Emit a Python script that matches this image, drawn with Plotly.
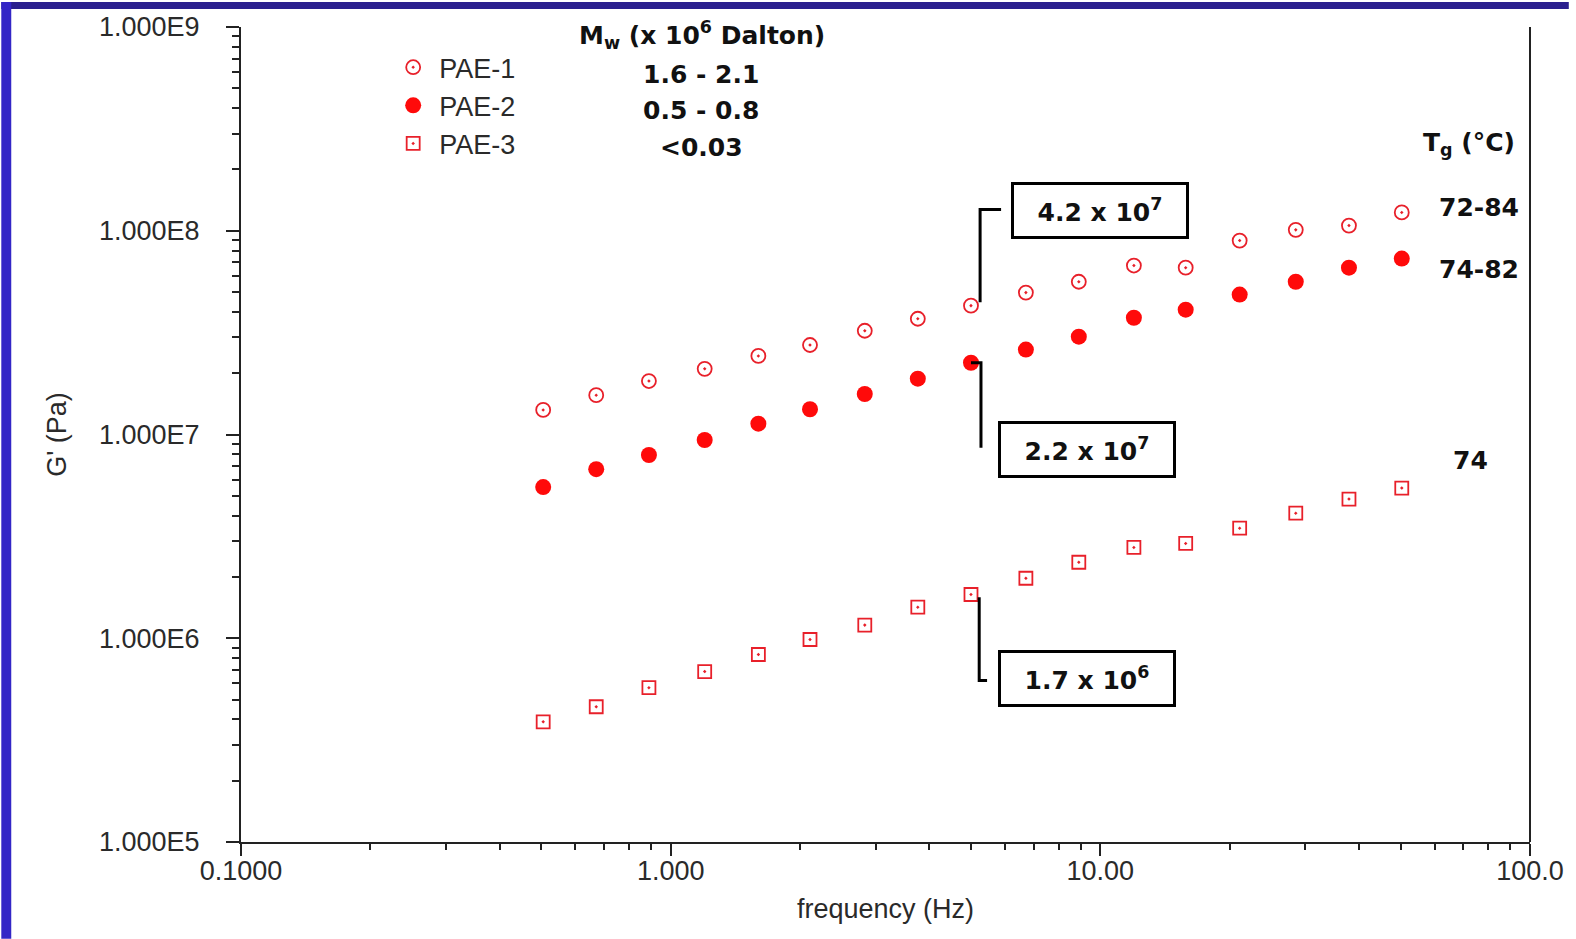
import numpy as np
import plotly.graph_objects as go

# ---------------- data ----------------
freq = [0.505, 0.671, 0.89, 1.2, 1.6, 2.11, 2.83, 3.76, 5.0, 6.71, 8.91,
        11.97, 15.8, 21.1, 28.5, 37.9, 50.3]
pae1 = [1.32e7, 1.56e7, 1.83e7, 2.10e7, 2.43e7, 2.75e7, 3.23e7, 3.70e7, 4.29e7,
        4.97e7, 5.62e7, 6.75e7, 6.59e7, 8.95e7, 1.01e8, 1.06e8, 1.23e8]
pae2 = [5.52e6, 6.76e6, 7.93e6, 9.4e6, 1.13e7, 1.33e7, 1.58e7, 1.88e7, 2.25e7,
        2.61e7, 3.02e7, 3.74e7, 4.10e7, 4.86e7, 5.62e7, 6.59e7, 7.30e7]
pae3 = [3.89e5, 4.61e5, 5.72e5, 6.86e5, 8.32e5, 9.86e5, 1.16e6, 1.42e6, 1.64e6,
        1.97e6, 2.36e6, 2.79e6, 2.92e6, 3.47e6, 4.11e6, 4.82e6, 5.46e6]
series_names = ["PAE-1", "PAE-2", "PAE-3"]
mw_labels = ["1.6 - 2.1", "0.5 - 0.8", "<0.03"]
tg_labels = ["72-84", "74-82", "74"]
callout_text = ["4.2 x 10<sup>7</sup>", "2.2 x 10<sup>7</sup>", "1.7 x 10<sup>6</sup>"]
callout_index = 8  # point at 5 Hz

y_tickvals = [1e5, 1e6, 1e7, 1e8, 1e9]
y_ticktext = ["1.000E5", "1.000E6", "1.000E7", "1.000E8", "1.000E9"]
x_tickvals = [0.1, 1, 10, 100]
x_ticktext = ["0.1000", "1.000", "10.00", "100.0"]

# ---------------- layout geometry ----------------
W, H = 1576, 939
S = 1576 / 1568  # measurements were taken on a 1568-wide view
ML, MR, MT, MB = 241, 39, 25, 97
PW, PH = W - ML - MR, H - MT - MB


def px(xp):   # (measured) pixel x -> paper
    return (xp * S - ML) / PW


def py(yp):   # (measured) pixel y -> paper
    return (H - MB - yp * S) / PH


RED = "#e8202a"
INK = "#222222"
TICKFONT = dict(family="Liberation Sans, Arial, sans-serif", size=27, color="#2a2a2a")
BOLDFONT = dict(family="DejaVu Sans, Verdana, sans-serif", size=25, color="#111111", weight="bold")

fig = go.Figure()

fig.add_trace(go.Scatter(
    x=freq, y=pae1, mode="markers", name=series_names[0],
    marker=dict(symbol="circle-open-dot", size=14, color=RED, line=dict(width=1.8, color=RED))))
fig.add_trace(go.Scatter(
    x=freq, y=pae2, mode="markers", name=series_names[1],
    marker=dict(symbol="circle", size=16, color="#ff0a0a", line=dict(width=0))))
fig.add_trace(go.Scatter(
    x=freq, y=pae3, mode="markers", name=series_names[2],
    marker=dict(symbol="square-open-dot", size=13, color=RED, line=dict(width=1.8, color=RED))))

# callout connector lines (elbows) anchored on the 5 Hz point of each series
f0 = freq[callout_index]
conn = [
    ([f0 * 1.05, f0 * 1.05, f0 * 1.175], [pae1[callout_index] * 1.04, 1.27e8, 1.27e8]),
    ([f0 * 1.0, f0 * 1.055, f0 * 1.055], [pae2[callout_index], pae2[callout_index], 8.6e6]),
    ([f0 * 1.045, f0 * 1.045, f0 * 1.09], [pae3[callout_index] * 0.97, 6.2e5, 6.2e5]),
]
for cx, cy in conn:
    fig.add_trace(go.Scatter(x=cx, y=cy, mode="lines", showlegend=False, hoverinfo="skip",
                             line=dict(color="black", width=3)))

annotations = []
# header for Mw column
annotations.append(dict(xref="paper", yref="paper", x=px(701), y=py(33), showarrow=False,
                        text="M<sub>w</sub> (x 10<sup>6</sup> Dalton)", font=BOLDFONT,
                        xanchor="center", yanchor="middle"))
for lab, yy in zip(mw_labels, [72, 108, 145]):
    annotations.append(dict(xref="paper", yref="paper", x=px(700), y=py(yy), showarrow=False,
                            text=lab.replace("<", "&lt;"), font=BOLDFONT,
                            xanchor="center", yanchor="middle"))
# Tg column
annotations.append(dict(xref="paper", yref="paper", x=px(1468), y=py(142), showarrow=False,
                        text="T<sub>g</sub> (°C)", font=BOLDFONT, xanchor="center", yanchor="middle"))
for lab, xx, yy in zip(tg_labels, [1478, 1478, 1470], [205, 267, 457]):
    annotations.append(dict(xref="paper", yref="paper", x=px(xx), y=py(yy), showarrow=False,
                            text=lab, font=BOLDFONT, xanchor="center", yanchor="middle"))
# boxed callouts
for txt, (cx, cy) in zip(callout_text, [(1099, 208), (1086, 446), (1086, 675)]):
    annotations.append(dict(xref="paper", yref="paper", x=px(cx), y=py(cy), showarrow=False,
                            text=txt, font=BOLDFONT, xanchor="center", yanchor="middle",
                            bordercolor="black", borderwidth=3, borderpad=3,
                            bgcolor="white", width=166, height=45))

shapes = [
    # right frame line
    dict(type="line", xref="paper", yref="paper", x0=1, x1=1, y0=0, y1=1,
         line=dict(color=INK, width=2)),
    # blue slide border: top and left
    dict(type="rect", xref="paper", yref="paper", x0=-ML / PW, x1=(W - ML) / PW,
         y0=(H - MB) / PH, y1=(H - MB - 7) / PH, fillcolor="#2a1f8e", line=dict(width=0)),
    dict(type="rect", xref="paper", yref="paper", x0=-ML / PW, x1=(10 - ML) / PW,
         y0=(H - MB) / PH, y1=-MB / PH, fillcolor="#3326c6", line=dict(width=0)),
]

fig.update_layout(
    width=W, height=H,
    margin=dict(l=ML, r=MR, t=MT, b=MB, pad=0),
    paper_bgcolor="white", plot_bgcolor="white",
    showlegend=True,
    legend=dict(x=px(386), y=py(41), xanchor="left", yanchor="top",
                font=dict(family="Liberation Sans, Arial, sans-serif", size=27, color="#2a2a2a"),
                bgcolor="rgba(0,0,0,0)", tracegroupgap=0, itemwidth=42),
    annotations=annotations,
    shapes=shapes,
)

fig.update_xaxes(
    type="log", range=[-1, 2], showgrid=False, zeroline=False,
    showline=True, linewidth=2, linecolor=INK,
    tickmode="array", tickvals=x_tickvals, ticktext=x_ticktext,
    ticks="outside", ticklen=12, tickwidth=2, tickcolor=INK,
    minor=dict(ticks="outside", ticklen=6, tickwidth=2, tickcolor=INK, dtick="D1", showgrid=False),
    tickfont=TICKFONT, ticklabelstandoff=-8,
    title=dict(text="frequency (Hz)", font=TICKFONT, standoff=14),
)
fig.update_yaxes(
    type="log", range=[5, 9], showgrid=False, zeroline=False,
    showline=True, linewidth=2, linecolor=INK,
    tickmode="array", tickvals=y_tickvals, ticktext=y_ticktext,
    ticks="outside", ticklen=13, tickwidth=2, tickcolor=INK,
    minor=dict(ticks="outside", ticklen=7, tickwidth=2, tickcolor=INK, dtick="D1", showgrid=False),
    tickfont=TICKFONT, ticklabelstandoff=21,
    title=dict(text="G' (Pa)", font=TICKFONT, standoff=25),
)

fig.write_html("out.html")
